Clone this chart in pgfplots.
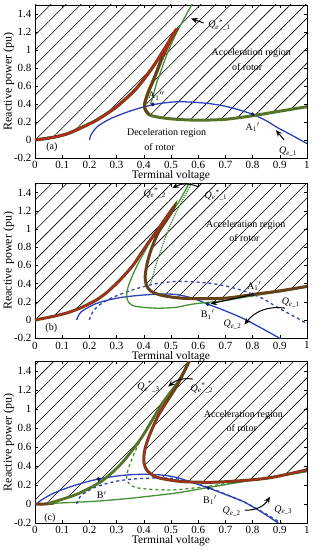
\documentclass[border=0pt]{standalone}
\usepackage{pgfplots}
\pgfplotsset{compat=1.18}
\usepackage{fontspec}
\setmainfont{Liberation Serif}
\usetikzlibrary{patterns.meta,arrows.meta}
\definecolor{cgreen}{RGB}{70,145,55}
\definecolor{colive}{RGB}{85,115,40}
\definecolor{cblue}{RGB}{45,65,185}
\definecolor{cred}{RGB}{205,35,30}
\definecolor{cbrown}{RGB}{105,65,25}
\definecolor{cdot}{RGB}{20,30,90}
\newcommand{\Qe}[1]{\textit{Q}\textsubscript{\textit{e}\_#1}}
\newcommand{\Qs}[1]{\textit{Q}\textsubscript{\textit{e}}\textsuperscript{*}\textsubscript{\_#1}}
\tikzset{
  arr/.style={-{Stealth[length=6.5pt,width=5.5pt]}, line width=1pt, black},
  hatch/.style={draw=none, pattern={Lines[angle=45,distance=10.6pt,line width=0.6pt]}, pattern color=black},
  thinl/.style={line width=1.3pt, smooth, tension=0.45},
  thickl/.style={line width=3pt, smooth, tension=0.45},
}
\pgfplotsset{
  panel/.style={
    scale only axis, width=272pt, anchor=south west,
    xmin=0,xmax=1,ymin=-0.2,ymax=1.5,
    xtick={0,0.1,0.2,0.3,0.4,0.5,0.6,0.7,0.8,0.9,1},
    ytick={-0.2,0,0.2,0.4,0.6,0.8,1,1.2,1.4},
    tick align=inside, major tick length=3pt,
    /pgf/number format/assume math mode=true,
    ticklabel style={font=\fontsize{11}{12}\selectfont},
    xlabel style={font=\fontsize{11.5}{13}\selectfont, yshift=5pt},
    ylabel style={font=\fontsize{12}{13}\selectfont, at={(axis description cs:-0.097,0.5)}, anchor=center},
    xlabel={Terminal voltage}, ylabel={Reactive power (pu)},
    axis line style={line width=0.6pt},
    tick style={line width=0.5pt, black},
    every node/.append style={font=\fontsize{11.5}{12}\selectfont},
  },
  dots/.style={only marks, mark=*, mark size=1.7pt, cdot},
}
\begin{document}
\begin{tikzpicture}[x=1pt,y=1pt]
\path[use as bounding box] (0,0) rectangle (315,550);
% ---------------- (a)
\begin{axis}[panel, height=153pt, at={(35pt,392pt)}]
\addplot[hatch] coordinates {(0,0)(0.067,0.03)(0.12,0.07)(0.165,0.13)(0.226,0.22)(0.30,0.37)(0.372,0.57)(0.433,0.81)(0.482,1.04)(0.513,1.20)(0.52,1.225)(0.50,1.12)(0.47,0.93)(0.44,0.70)(0.415,0.52)(0.403,0.40)(0.405,0.34)(0.42,0.28)(0.46,0.25)(0.52,0.23)(0.6,0.22)(0.7,0.23)(0.8,0.27)(0.9,0.32)(1,0.37)(1,1.6)(0,1.6)} -- cycle;
\addplot[cblue, thinl] coordinates {(0.2,0)(0.205,0.05)(0.215,0.1)(0.23,0.15)(0.255,0.20)(0.287,0.25)(0.348,0.32)(0.409,0.375)(0.458,0.405)(0.52,0.425)(0.58,0.42)(0.64,0.405)(0.70,0.375)(0.75,0.335)(0.80,0.285)(0.85,0.215)(0.89,0.14)(0.94,0.06)(1.0,-0.04)};
\addplot[cgreen, thinl] coordinates {(0.425,0.40)(0.435,0.50)(0.447,0.63)(0.462,0.76)(0.49,0.99)(0.52,1.19)(0.55,1.36)(0.585,1.55)};
\addplot[colive, thickl] coordinates {(0,0)(0.067,0.03)(0.12,0.07)(0.165,0.13)(0.226,0.22)(0.30,0.37)(0.372,0.57)(0.433,0.81)(0.482,1.04)(0.513,1.20)(0.52,1.225)(0.50,1.12)(0.47,0.93)(0.44,0.70)(0.415,0.52)(0.403,0.40)(0.405,0.34)(0.42,0.28)(0.46,0.25)(0.52,0.23)(0.6,0.22)(0.7,0.23)(0.8,0.27)(0.9,0.32)(1,0.37)};
\addplot[cbrown, thickl] coordinates {(0,0)(0.067,0.03)(0.12,0.07)(0.165,0.13)(0.226,0.22)(0.30,0.37)(0.372,0.57)(0.433,0.81)(0.482,1.04)(0.513,1.20)(0.52,1.225)(0.50,1.12)(0.47,0.93)(0.44,0.70)(0.415,0.52)(0.403,0.40)(0.405,0.34)(0.42,0.28)};
\addplot[cred, line width=1.3pt, smooth, tension=0.45] coordinates {(0,0)(0.067,0.03)(0.12,0.07)(0.165,0.13)(0.226,0.22)(0.30,0.37)(0.372,0.57)(0.433,0.81)(0.482,1.04)(0.513,1.20)(0.52,1.225)(0.50,1.12)(0.47,0.93)};
\addplot[dots] coordinates {(0.433,0.395)(0.80,0.285)};
\node at (axis cs:0.795,0.967) {Acceleration region};
\node at (axis cs:0.78,0.81) {of rotor};
\node at (axis cs:0.484,0.078) {Deceleration region};
\node at (axis cs:0.458,-0.078) {of rotor};
\node at (axis cs:0.062,-0.078) {(a)};
\node at (axis cs:0.446,0.49) {A\textsubscript{1}$''$};
\node at (axis cs:0.80,0.14) {A\textsubscript{1}$'$};
\node at (axis cs:0.93,-0.13) {\Qe{1}};
\node at (axis cs:0.678,1.28) {\Qs{1}};
\draw[arr] (axis cs:0.916,0.0) -- (axis cs:0.886,0.11);
\draw[arr] (axis cs:0.62,1.30) -- (axis cs:0.574,1.35);
\end{axis}
% ---------------- (b)
\begin{axis}[panel, height=154.7pt, at={(35pt,211.8pt)}]
\addplot[hatch] coordinates {(0,0)(0.067,0.04)(0.12,0.08)(0.165,0.13)(0.22,0.21)(0.263,0.30)(0.3125,0.44)(0.36,0.60)(0.41,0.82)(0.46,1.03)(0.495,1.18)(0.512,1.25)(0.505,1.20)(0.482,1.09)(0.455,0.97)(0.43,0.80)(0.413,0.63)(0.405,0.48)(0.41,0.38)(0.425,0.32)(0.46,0.275)(0.52,0.245)(0.58,0.235)(0.70,0.24)(0.80,0.28)(0.9,0.32)(1,0.37)(1,1.6)(0,1.6)} -- cycle;
\addplot[cblue, thinl, dashed] coordinates {(0.2,0)(0.205,0.05)(0.215,0.1)(0.23,0.15)(0.255,0.20)(0.287,0.25)(0.348,0.32)(0.409,0.375)(0.458,0.405)(0.52,0.425)(0.58,0.42)(0.64,0.405)(0.70,0.375)(0.75,0.335)(0.80,0.285)(0.85,0.215)(0.89,0.14)(0.94,0.06)(1.0,-0.04)};
\addplot[cblue, thinl] coordinates {(0.153,0)(0.16,0.05)(0.17,0.09)(0.19,0.13)(0.22,0.175)(0.25,0.205)(0.30,0.24)(0.348,0.26)(0.40,0.275)(0.47,0.285)(0.52,0.28)(0.58,0.24)(0.635,0.175)(0.70,0.10)(0.763,0.02)(0.83,-0.085)(0.905,-0.21)};
\addplot[cgreen, thinl, densely dotted] coordinates {(0.425,0.40)(0.435,0.50)(0.447,0.63)(0.462,0.76)(0.49,0.99)(0.52,1.19)(0.55,1.36)(0.585,1.55)};
\addplot[cgreen, thinl] coordinates {(1,0.36)(0.9,0.31)(0.8,0.265)(0.7,0.215)(0.58,0.175)(0.52,0.14)(0.446,0.13)(0.37,0.15)(0.345,0.19)(0.337,0.26)(0.342,0.36)(0.36,0.50)(0.386,0.66)(0.435,0.915)(0.496,1.17)(0.525,1.28)(0.563,1.48)(0.575,1.55)};
\addplot[cbrown, thickl] coordinates {(0,0)(0.067,0.04)(0.12,0.08)(0.165,0.13)(0.22,0.21)(0.263,0.30)(0.3125,0.44)(0.36,0.60)(0.41,0.82)(0.46,1.03)(0.495,1.18)(0.512,1.25)(0.505,1.20)(0.482,1.09)(0.455,0.97)(0.43,0.80)(0.413,0.63)(0.405,0.48)(0.41,0.38)(0.425,0.32)(0.46,0.275)(0.52,0.245)(0.58,0.235)(0.70,0.24)(0.80,0.28)(0.9,0.32)(1,0.37)};
\addplot[cred, line width=1.2pt, smooth, tension=0.45, opacity=0.85] coordinates {(0,0)(0.067,0.04)(0.12,0.08)(0.165,0.13)(0.22,0.21)(0.263,0.30)(0.3125,0.44)(0.36,0.60)(0.41,0.82)(0.46,1.03)(0.495,1.18)};
\addplot[dots] coordinates {(0.80,0.28)(0.635,0.175)};
\draw[arr] (axis cs:0.80,0.28) -- (axis cs:0.645,0.178);
\node at (axis cs:0.775,1.04) {Acceleration region};
\node at (axis cs:0.77,0.90) {of rotor};
\node at (axis cs:0.06,-0.09) {(b)};
\node at (axis cs:0.806,0.37) {A\textsubscript{1}$'$};
\node at (axis cs:0.635,0.06) {B\textsubscript{1}$'$};
\node at (axis cs:0.94,0.19) {\Qe{1}};
\node at (axis cs:0.726,-0.05) {\Qe{2}};
\node at (axis cs:0.44,1.39) {\Qs{2}};
\node at (axis cs:0.665,1.37) {\Qs{1}};
\draw[arr] (axis cs:0.60,1.465) to[bend right=25] (axis cs:0.505,1.45);
\draw[arr] (axis cs:0.92,0.13) to[bend right=30] (axis cs:0.77,-0.05);
\end{axis}
% ---------------- (c)
\begin{axis}[panel, height=161.5pt, at={(35pt,27pt)}]
\addplot[hatch] coordinates {(0,0)(0.049,0.005)(0.10,0.05)(0.16,0.11)(0.245,0.24)(0.319,0.43)(0.392,0.70)(0.466,1.05)(0.52,1.26)(0.545,1.38)(0.57,1.52)(0.58,1.6)(0,1.6)} -- cycle;
\addplot[hatch] coordinates {(0.57,1.52)(0.525,1.26)(0.485,1.08)(0.455,0.94)(0.435,0.82)(0.415,0.68)(0.403,0.56)(0.40,0.45)(0.41,0.36)(0.44,0.29)(0.48,0.26)(0.545,0.235)(0.668,0.23)(0.85,0.27)(1.0,0.36)(1,1.6)(0.58,1.6)} -- cycle;
\addplot[cgreen, thinl] coordinates {(0.049,0.005)(0.227,0.03)(0.349,0.06)(0.46,0.095)(0.53,0.12)(0.62,0.165)(0.766,0.235)(0.88,0.285)(1.0,0.34)};
\addplot[cgreen, thinl, dashed] coordinates {(1,0.35)(0.9,0.305)(0.8,0.26)(0.7,0.215)(0.62,0.18)(0.52,0.15)(0.46,0.15)(0.386,0.165)(0.35,0.20)(0.337,0.27)(0.342,0.36)(0.36,0.50)(0.386,0.66)(0.435,0.915)(0.496,1.17)(0.525,1.28)(0.563,1.48)(0.575,1.55)};
\addplot[cblue, thinl, dashed] coordinates {(0.153,0)(0.16,0.05)(0.17,0.09)(0.19,0.13)(0.22,0.175)(0.25,0.205)(0.30,0.24)(0.348,0.26)(0.40,0.27)(0.47,0.275)(0.52,0.265)(0.58,0.23)(0.645,0.165)(0.70,0.105)(0.77,0.02)(0.84,-0.09)(0.91,-0.21)};
\addplot[cblue, thinl] coordinates {(0.006,0.0)(0.02,0.035)(0.055,0.095)(0.09,0.14)(0.129,0.18)(0.18,0.225)(0.233,0.263)(0.29,0.29)(0.349,0.308)(0.41,0.313)(0.472,0.303)(0.52,0.28)(0.58,0.225)(0.637,0.17)(0.70,0.10)(0.766,0.025)(0.83,-0.08)(0.889,-0.19)(0.897,-0.21)};
\addplot[cbrown, thickl] coordinates {(0,0)(0.035,0.0)(0.07,0.01)};
\addplot[colive, line width=2.8pt, smooth, tension=0.45] coordinates {(0.049,0.005)(0.10,0.05)(0.16,0.11)(0.245,0.24)(0.319,0.43)(0.392,0.70)(0.466,1.05)(0.52,1.26)(0.545,1.38)(0.575,1.55)};
\addplot[cbrown, thickl] coordinates {(0.575,1.55)(0.525,1.26)(0.485,1.08)(0.455,0.94)(0.435,0.82)(0.415,0.68)(0.403,0.56)(0.40,0.45)(0.41,0.36)(0.44,0.29)(0.48,0.26)(0.545,0.235)(0.668,0.23)(0.85,0.27)(1.0,0.36)};
\addplot[cred, line width=1.1pt, smooth, tension=0.45, opacity=0.8] coordinates {(0.485,1.08)(0.455,0.94)(0.435,0.82)(0.415,0.68)(0.403,0.56)(0.40,0.45)(0.41,0.36)(0.44,0.29)(0.48,0.26)(0.545,0.235)(0.668,0.23)(0.85,0.27)(1.0,0.36)};
\addplot[dots] coordinates {(0.233,0.263)(0.637,0.17)};
\node at (axis cs:0.766,0.94) {Acceleration region};
\node at (axis cs:0.76,0.80) {of rotor};
\node at (axis cs:0.055,-0.15) {(c)};
\node at (axis cs:0.245,0.095) {B$'$};
\node at (axis cs:0.643,0.04) {B\textsubscript{1}$'$};
\node at (axis cs:0.417,1.235) {\Qs{3}};
\node at (axis cs:0.613,1.22) {\Qs{2}};
\node at (axis cs:0.723,-0.08) {\Qe{2}};
\node at (axis cs:0.913,-0.065) {\Qe{3}};
\draw[arr] (axis cs:0.58,1.315) to[bend right=25] (axis cs:0.49,1.235);
\draw[arr] (axis cs:0.772,-0.065) to[bend right=30] (axis cs:0.864,0.077);
\end{axis}
\end{tikzpicture}
\end{document}
